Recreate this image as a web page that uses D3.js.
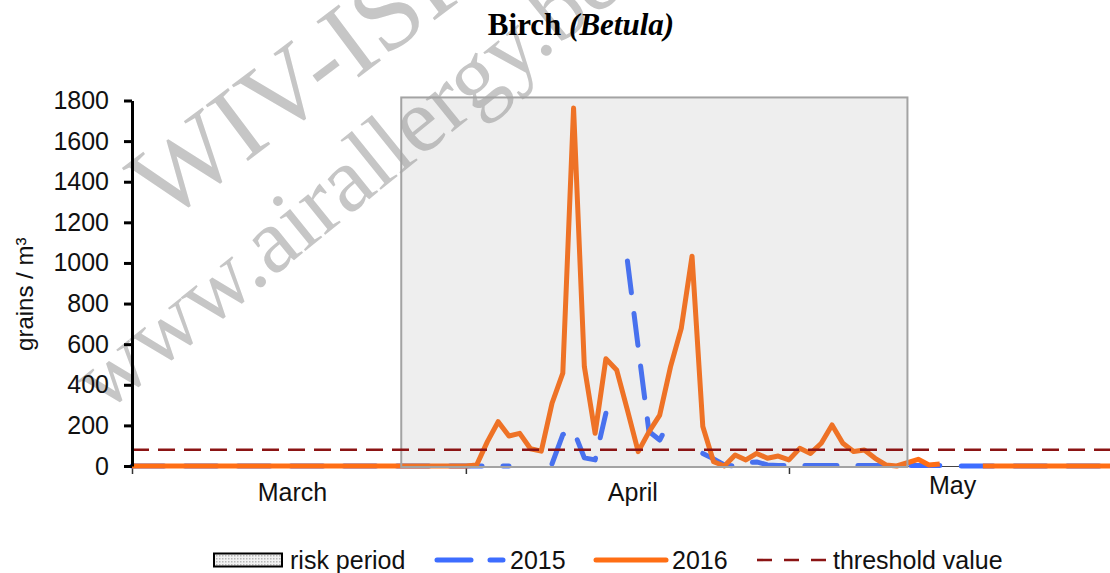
<!DOCTYPE html>
<html>
<head>
<meta charset="utf-8">
<script src="https://cdn.jsdelivr.net/npm/d3@7"></script>
<style>
  body { margin: 0; background: #fff; }
  text { font-family: "Liberation Sans", Arial, sans-serif; }
</style>
</head>
<body>
<script>
const WIDTH  = 1110;
const HEIGHT = 573;

// x = days since 1 March (0 .. 91)
const monthTicks     = [0, 31, 61, 92];
const monthLabels    = ['March', 'April', 'May'];
const monthLabelDays = [14.9, 46.5, 76.2];
const yTicks = [0, 200, 400, 600, 800, 1000, 1200, 1400, 1600, 1800];

// daily birch pollen (grains / m³), null = no measurement
const pollen2015 = [
  0, 0, 0, 0, 0, 0, 0, 0, 0, 0,
  0, 0, 0, 0, 0, 0, 0, 0, 0, 0,
  0, 0, 0, 0, 0, 0, 0, 0, 0, 0,
  0, 0, 0, 0, 0, 0, null, null, null, 10,
  155, 175, 40, 30, 260, null, 1010, 585, 170, 128,
  230, null, null, 62, 35, 5, 0, 15, 20, 5,
  3, 3, 3, 3, 3, 3, 3, 3, 3, 3,
  3, 3, 3, 3, 3, 3, null, 0, 0, 0,
  0, 0, 0, 0, 0, 0, 0, 0, 0, 0,
  0, 0
];
const pollen2016 = [
  0, 0, 0, 0, 0, 0, 0, 0, 0, 0,
  0, 0, 0, 0, 0, 0, 0, 0, 0, 0,
  0, 0, 0, 0, 0, 0, 0, 0, 0, 0,
  0, 0, 5, 120, 218, 148, 161, 85, 73, 309,
  457, 1763, 490, 161, 528, 473, 275, 71, 168, 251,
  488, 678, 1033, 194, 21, 0, 54, 30, 62, 38,
  49, 30, 87, 62, 112, 202, 112, 71, 79, 38,
  5, 0, 16, 33, 5, 10, null, null, null, 0,
  0, 0, 0, 0, 0, 0, 0, 0, 0, 0,
  0, 0
];
const thresholdValue = 80;
const riskPeriod = [25, 72]; // 26 March .. 12 May

const legendLabels = ['risk period', '2015', '2016', 'threshold value'];

const ORANGE = '#ff6e14';
const BLUE   = '#3d6dff';
const DARKRED = '#8b1414';

let svg = d3.select('body').append('svg')
              .attr('width', WIDTH)
              .attr('height', HEIGHT);

let x = d3.scaleLinear().domain([0, 92]).range([132, 132 + 92 * 10.77]);
let y = d3.scaleLinear().domain([0, 1800]).range([466, 100.5]);

// watermark
svg.append('text')
    .attr('transform', 'translate(164,224) rotate(-37)')
    .style('font-family', '"Liberation Serif", "Times New Roman", serif')
    .style('font-size', '107px')
    .style('fill', '#c6c6c6')
    .text('WIV-ISP');
svg.append('text')
    .attr('transform', 'translate(104,414) rotate(-39)')
    .style('font-family', '"Liberation Serif", "Times New Roman", serif')
    .style('font-size', '92px')
    .style('fill', '#c6c6c6')
    .text('www.airallergy.be');

// title
let title = svg.append('text')
    .attr('x', 581).attr('y', 35)
    .attr('text-anchor', 'middle')
    .style('font-family', '"Liberation Serif", "Times New Roman", serif')
    .style('font-size', '31px')
    .style('font-weight', 'bold');
title.append('tspan').text('Birch ');
title.append('tspan').style('font-style', 'italic').text('(Betula)');

// x axis
let xAxis = svg.append('g')
    .attr('transform', `translate(0,${y(0)})`)
    .call(d3.axisBottom(x).tickValues(monthTicks).tickSize(8).tickSizeOuter(0).tickFormat(''));
xAxis.select('.domain').attr('stroke', '#444').attr('stroke-width', 1.2);
xAxis.selectAll('.tick line').attr('stroke', '#333').attr('stroke-width', 1.5);

svg.selectAll('.month')
    .data(monthLabels)
    .enter().append('text')
    .attr('class', 'month')
    .attr('x', (d, i) => x(monthLabelDays[i]))
    .attr('y', (d, i) => i == 2 ? 494 : 501)
    .attr('text-anchor', 'middle')
    .style('font-size', '25px')
    .style('fill', '#111')
    .text(d => d);

// series
let line = d3.line()
    .defined(d => d != null)
    .x((d, i) => x(i))
    .y(d => y(d));

svg.append('path')
    .datum(pollen2015)
    .attr('d', line)
    .attr('fill', 'none')
    .attr('stroke', BLUE)
    .attr('stroke-width', 5)
    .attr('stroke-linecap', 'round')
    .attr('stroke-linejoin', 'round')
    .attr('stroke-dasharray', '32,21');

svg.append('path')
    .datum(pollen2016)
    .attr('d', line)
    .attr('fill', 'none')
    .attr('stroke', ORANGE)
    .attr('stroke-width', 5)
    .attr('stroke-linejoin', 'round');

// risk period box (semi transparent, over the lines)
svg.append('rect')
    .attr('x', x(riskPeriod[0]))
    .attr('y', y(1815))
    .attr('width', x(riskPeriod[1]) - x(riskPeriod[0]))
    .attr('height', y(0) + 1 - y(1815))
    .attr('fill', '#8c8c8c')
    .attr('fill-opacity', 0.15)
    .attr('stroke', '#a3a3a3')
    .attr('stroke-width', 2);

// threshold
svg.append('line')
    .attr('x1', x(0)).attr('x2', x(92))
    .attr('y1', y(thresholdValue)).attr('y2', y(thresholdValue))
    .attr('stroke', DARKRED)
    .attr('stroke-width', 2.6)
    .attr('stroke-dasharray', '17,9');

// y axis
let yAxis = svg.append('g')
    .attr('transform', `translate(${x(0)},0)`)
    .call(d3.axisLeft(y).tickValues(yTicks).tickSize(8).tickSizeOuter(0)
            .tickPadding(15).tickFormat(d3.format('d')));
yAxis.select('.domain').attr('stroke', '#000').attr('stroke-width', 3);
yAxis.selectAll('.tick line').attr('stroke', '#000').attr('stroke-width', 3);
yAxis.selectAll('.tick text')
    .style('font-family', '"Liberation Sans", Arial, sans-serif')
    .style('font-size', '25px')
    .style('fill', '#111');

svg.append('text')
    .attr('transform', `translate(33,${(y(0) + y(1800)) / 2 + 11}) rotate(-90)`)
    .attr('text-anchor', 'middle')
    .style('font-size', '24px')
    .style('fill', '#111')
    .text('grains / m³');

// legend
let defs = svg.append('defs');
let pat = defs.append('pattern')
    .attr('id', 'dots').attr('width', 3).attr('height', 3)
    .attr('patternUnits', 'userSpaceOnUse');
pat.append('rect').attr('width', 3).attr('height', 3).attr('fill', '#f2f2f2');
pat.append('rect').attr('width', 1.5).attr('height', 1.5).attr('fill', '#b8b8b8');

let legendY = 560;
svg.append('rect')
    .attr('x', 214).attr('y', 553.5).attr('width', 68).attr('height', 13)
    .attr('fill', 'url(#dots)')
    .attr('stroke', '#000').attr('stroke-width', 2);

svg.append('line')
    .attr('x1', 437).attr('x2', 503).attr('y1', legendY).attr('y2', legendY)
    .attr('stroke', BLUE).attr('stroke-width', 5)
    .attr('stroke-linecap', 'round').attr('stroke-dasharray', '34,19');

svg.append('line')
    .attr('x1', 596).attr('x2', 666).attr('y1', legendY).attr('y2', legendY)
    .attr('stroke', ORANGE).attr('stroke-width', 5).attr('stroke-linecap', 'round');

svg.append('line')
    .attr('x1', 757).attr('x2', 827).attr('y1', legendY).attr('y2', legendY)
    .attr('stroke', DARKRED).attr('stroke-width', 2.6).attr('stroke-dasharray', '15,12');

let legendX = [290, 510, 672, 833];
svg.selectAll('.legtext')
    .data(legendLabels)
    .enter().append('text')
    .attr('class', 'legtext')
    .attr('x', (d, i) => legendX[i])
    .attr('y', 568.5)
    .style('font-size', '25px')
    .style('fill', '#111')
    .text(d => d);
</script>
</body>
</html>
